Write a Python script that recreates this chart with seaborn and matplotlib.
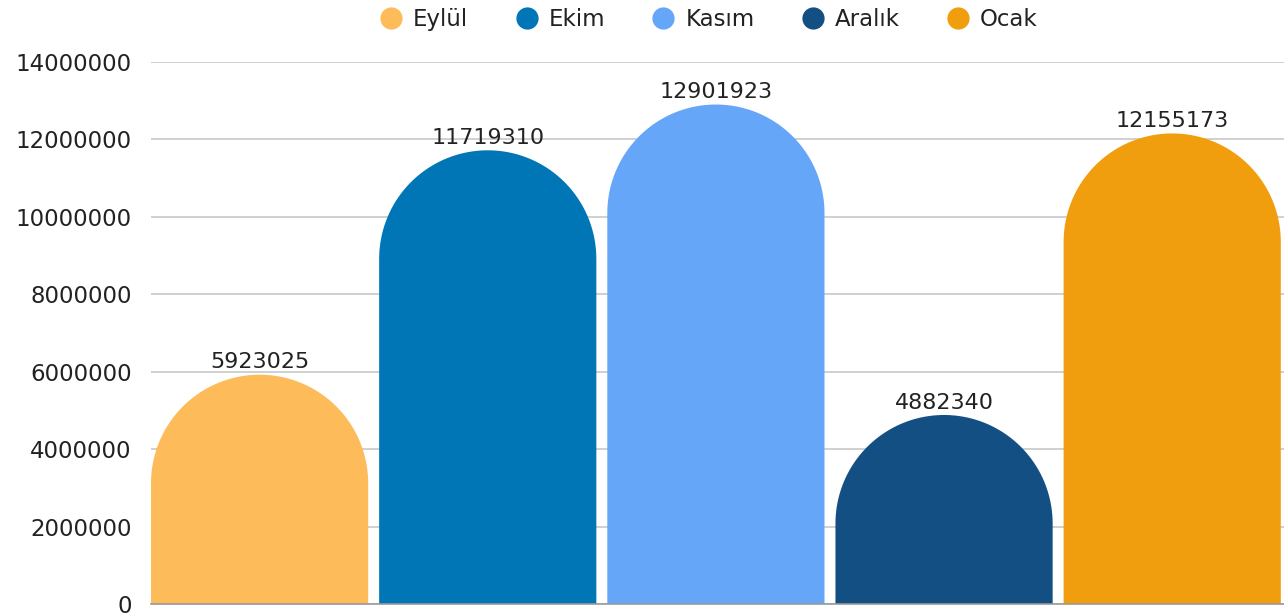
"""
Monthly totals as bars with round tops.
"""

import matplotlib
matplotlib.use("Agg")
import matplotlib.pyplot as plt
import seaborn as sns
import pandas as pd
import numpy as np
from matplotlib.path import Path
from matplotlib.patches import PathPatch
from matplotlib.lines import Line2D

# Data
MONTHS = ["Eylül", "Ekim", "Kasım", "Aralık", "Ocak"]
VALUES = [5923025, 11719310, 12901923, 4882340, 12155173]
COLORS = ["#FDBB5A", "#0076B6", "#66A6F8", "#134F82", "#F09D0E"]
Y_TICKS = [0, 2000000, 4000000, 6000000, 8000000, 10000000, 12000000, 14000000]

sns.set_theme(style="white")
plt.rcParams["font.family"] = ["DejaVu Sans"]

df = pd.DataFrame({"month": MONTHS, "value": VALUES})

fig = plt.figure(figsize=(12.84, 6.14), dpi=100)
ax = fig.add_axes([151 / 1284, 10 / 614, 1133 / 1284, 542 / 614])

sns.barplot(data=df, x="month", y="value", hue="month", palette=COLORS,
            width=0.952, legend=False, ax=ax, saturation=1)

ax.set_xlim(-0.476, 4.49)
ax.set_ylim(0, 14000000)
ax.set_yticks(Y_TICKS)
ax.set_yticklabels([str(t) for t in Y_TICKS], fontsize=16.5, color="#222222")
ax.set_xticks([])
ax.set_xlabel("")
ax.set_ylabel("")
ax.tick_params(axis="y", length=0, pad=14)
ax.yaxis.grid(True, color="#c8c8c8", linewidth=1.2)
ax.set_axisbelow(True)
for side in ["top", "right", "left"]:
    ax.spines[side].set_visible(False)
ax.spines["bottom"].set_color("#999999")
ax.spines["bottom"].set_linewidth(1.2)

# replace square bar tops by half circles (round in pixel space)
px_per_y = ax.transData.transform((0, 1))[1] - ax.transData.transform((0, 0))[1]
px_per_x = ax.transData.transform((1, 0))[0] - ax.transData.transform((0, 0))[0]
for bar, val in zip(list(ax.patches), VALUES):
    x0 = bar.get_x()
    w = bar.get_width()
    rx = w / 2
    ry = rx * px_per_x / px_per_y
    cx = x0 + rx
    cy = val - ry
    theta = np.linspace(np.pi, 0, 80)
    verts = [(x0, 0), (x0, cy)]
    verts += [(cx + rx * np.cos(t), cy + ry * np.sin(t)) for t in theta]
    verts += [(x0 + w, 0), (x0, 0)]
    codes = [Path.MOVETO] + [Path.LINETO] * (len(verts) - 2) + [Path.CLOSEPOLY]
    patch = PathPatch(Path(verts, codes), facecolor=bar.get_facecolor(),
                      edgecolor="none", zorder=2)
    bar.set_visible(False)
    ax.add_patch(patch)
    ax.text(cx, val + 60000, str(val), ha="center", va="bottom",
            fontsize=16, color="#222222")

handles = [Line2D([], [], marker="o", linestyle="", markersize=16,
                  markerfacecolor=c, markeredgecolor="none") for c in COLORS]
fig.legend(handles, MONTHS, loc="upper center", bbox_to_anchor=(0.552, 1.02),
           ncol=5, frameon=False, fontsize=16.5, handlelength=1.0,
           handletextpad=0.45, columnspacing=2.05, labelcolor="#222222")

fig.savefig("out.png", dpi=100)
